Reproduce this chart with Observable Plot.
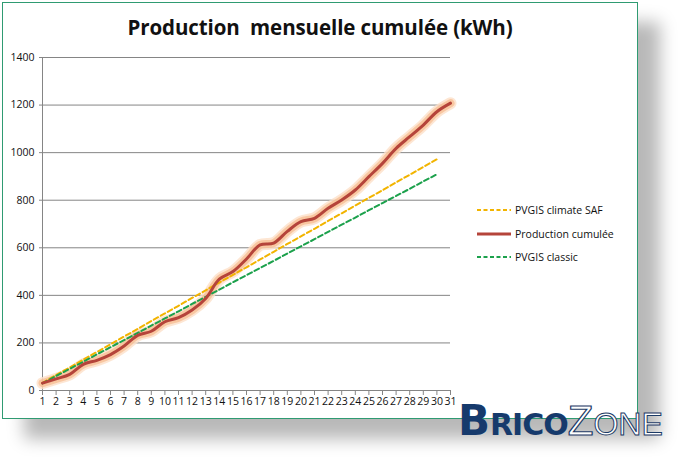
<!DOCTYPE html>
<html>
<head>
<meta charset="utf-8">
<script src="https://cdn.jsdelivr.net/npm/d3@7"></script>
<script src="https://cdn.jsdelivr.net/npm/@observablehq/plot@0.6"></script>
<style>
  html, body { margin: 0; padding: 0; background: #fff; }
  #wrap { position: relative; width: 679px; height: 461px; overflow: hidden; background: #fff; font-family: "Open Sans", "Liberation Sans", sans-serif; }
  #frame { position: absolute; left: 2px; top: 2px; width: 634px; height: 415px; border: 1.5px solid #2f9b72; background: #fff; box-shadow: 22px 20px 16px rgba(0,0,0,0.28); }
  #title { position: absolute; left: 0; width: 640px; top: 13px; text-align: center; font-family: "Open Sans", sans-serif; font-weight: 700; font-size: 20.5px; color: #111; white-space: pre; letter-spacing: -0.1px; }
  #chart { position: absolute; left: 0; top: 0; }
  #legend { position: absolute; left: 476px; top: 198px; font-family: "Open Sans", sans-serif; font-size: 10.5px; color: #111; }
  #legend .row { height: 23.7px; display: flex; align-items: center; }
  #legend svg { margin-right: 3px; }
  #logo { position: absolute; left: 458px; top: 400px; font-family: "DejaVu Sans", sans-serif; white-space: nowrap; line-height: 1; }
  #logo .b { font-size: 42px; font-weight: 900; color: #163a6c; }
  #logo .r { font-size: 30px; font-weight: 900; color: #163a6c; letter-spacing: -1px; }
  #logo .z { font-family: "Liberation Sans", sans-serif; font-size: 42px; color: #fff; -webkit-text-stroke: 1.2px #1b3a66; }
  #logo .o { font-family: "Liberation Sans", sans-serif; font-size: 32px; color: #fff; -webkit-text-stroke: 1px #1b3a66; }
</style>
</head>
<body>
<div id="wrap">
  <div id="frame"></div>
  <div id="chart"></div>
  <div id="title">Production  mensuelle cumulée (kWh)</div>
  <div id="legend"></div>
  <div id="logo"><span class="b">B</span><span class="r">RICO</span><span class="z">Z</span><span class="o">ONE</span></div>
</div>
<script>
const days = [1,2,3,4,5,6,7,8,9,10,11,12,13,14,15,16,17,18,19,20,21,22,23,24,25,26,27,28,29,30,31];
const production = [31,49,68,110,127,151,187,232,249,289,306,338,387,468,500,553,612,620,669,710,724,766,801,843,899,955,1018,1067,1116,1172,1208];
const pvgisSafDays = [1,2,3,4,5,6,7,8,9,10,11,12,13,14,15,16,17,18,19,20,21,22,23,24,25,26,27,28,29,30];
const pvgisSaf = [32,65,97,130,162,194,227,259,292,324,356,389,421,454,486,518,551,583,616,648,680,713,745,778,810,842,875,907,940,972];
const pvgisClassic = [30,61,91,121,152,182,212,242,273,303,333,364,394,424,455,485,515,545,576,606,636,667,697,727,758,788,818,848,879,909];
const yTicks = [0,200,400,600,800,1000,1200,1400];
const seriesNames = ["PVGIS climate SAF", "Production cumulée", "PVGIS classic"];
const colors = { saf: "#f2b400", prod: "#b5443a", classic: "#1ca14c", glow: "#f7b98c" };

const prodData = days.map((d, i) => ({ day: d, v: production[i] }));
const safData = pvgisSafDays.map((d, i) => ({ day: d, v: pvgisSaf[i] }));
const classicData = pvgisSafDays.map((d, i) => ({ day: d, v: pvgisClassic[i] }));

const chart = Plot.plot({
  width: 640,
  height: 420,
  marginLeft: 42,
  marginRight: 190,
  marginTop: 57,
  marginBottom: 30,
  style: { background: "transparent", fontFamily: "Open Sans, sans-serif", fontSize: "10px", color: "#111" },
  x: { type: "linear", domain: [1, 31], label: null },
  y: { type: "linear", domain: [0, 1400], label: null },
  marks: [
    Plot.ruleY(yTicks.slice(1), { stroke: "#858585", strokeWidth: 1, strokeOpacity: 1 }),
    Plot.ruleY([0], { stroke: "#858585", strokeWidth: 1 }),
    Plot.ruleX([1], { stroke: "#858585", strokeWidth: 1 }),
    Plot.axisX({ ticks: days, tickFormat: d => String(d), tickSize: 5, tickPadding: 2, stroke: "#858585", fill: "#111", fontSize: 10.5, label: null }),
    Plot.axisY({ ticks: yTicks, tickFormat: d => String(d), tickSize: 3, tickPadding: 5, stroke: "#858585", fill: "#111", fontSize: 10.5, label: null }),
    Plot.line(prodData, { x: "day", y: "v", stroke: "#fde0c8", strokeWidth: 12, strokeOpacity: 0.8, curve: "catmull-rom" }),
    Plot.line(prodData, { x: "day", y: "v", stroke: colors.glow, strokeWidth: 8, strokeOpacity: 0.7, curve: "catmull-rom" }),
    Plot.line(safData, { x: "day", y: "v", stroke: colors.saf, strokeWidth: 2, strokeDasharray: "5,3" }),
    Plot.line(classicData, { x: "day", y: "v", stroke: colors.classic, strokeWidth: 2, strokeDasharray: "5,3" }),
    Plot.line(prodData, { x: "day", y: "v", stroke: colors.prod, strokeWidth: 3, curve: "catmull-rom" })
  ]
});
document.getElementById("chart").appendChild(chart);

// legend
const legend = document.getElementById("legend");
const legendStyles = [
  { color: colors.saf, dash: "4,2.5", w: 2 },
  { color: colors.prod, dash: null, w: 3 },
  { color: colors.classic, dash: "4,2.5", w: 2 }
];
seriesNames.forEach((name, i) => {
  const row = document.createElement("div");
  row.className = "row";
  const s = legendStyles[i];
  row.innerHTML = `<svg width="36" height="8"><line x1="1" x2="35" y1="4" y2="4" stroke="${s.color}" stroke-width="${s.w}" ${s.dash ? `stroke-dasharray="${s.dash}"` : ""}/></svg><span>${name}</span>`;
  legend.appendChild(row);
});
</script>
</body>
</html>
